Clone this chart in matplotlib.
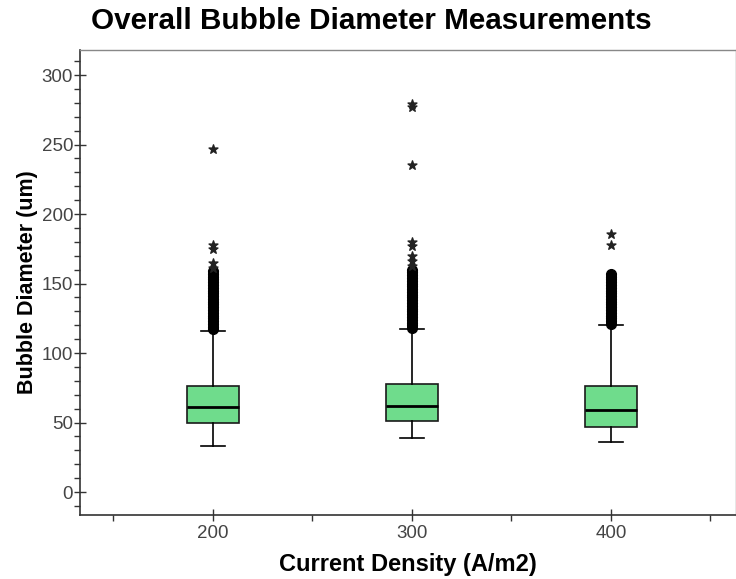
import matplotlib.pyplot as plt

plt.rcParams['font.family'] = ['Liberation Sans', 'DejaVu Sans']

# Data
categories = ['200', '300', '400']
q1 = [50, 51, 47]
medians = [61, 62, 59]
q3 = [76, 78, 76]
whisker_low = [33, 39, 36]
whisker_high = [116, 117, 120]

# dense outliers (filled circles)
dense_200 = [117, 119, 121, 123, 125, 127, 129, 131, 133, 135, 137, 139, 141,
             143, 145, 147, 149, 151, 153, 155, 157, 159]
dense_300 = [118, 120, 122, 124, 126, 128, 130, 132, 134, 136, 138, 140, 142,
             144, 146, 148, 150, 152, 154, 156, 158, 160]
dense_400 = [121, 123, 125, 127, 129, 131, 133, 135, 137, 139, 141, 143, 145,
             147, 149, 151, 153, 155, 157]

# extreme outliers (stars)
stars_200 = [161, 165, 175, 178, 247]
stars_300 = [163, 166, 170, 177, 180, 235, 277, 279]
stars_400 = [178, 186]

dense = [dense_200, dense_300, dense_400]
stars = [stars_200, stars_300, stars_400]

stats = []
for i in range(len(categories)):
    stats.append({
        'label': categories[i],
        'q1': q1[i], 'med': medians[i], 'q3': q3[i],
        'whislo': whisker_low[i], 'whishi': whisker_high[i],
        'fliers': dense[i],
    })

fig = plt.figure(figsize=(7.36, 5.79), dpi=100)
ax = fig.add_axes([0.1087, 0.1105, 0.891, 0.803])

positions = [1, 2, 3]
ax.bxp(stats, positions=positions, widths=0.26, patch_artist=True,
       boxprops=dict(facecolor='#6fdc8c', edgecolor='#1a1a1a', linewidth=1.2),
       medianprops=dict(color='black', linewidth=2),
       whiskerprops=dict(color='black', linewidth=1.2),
       capprops=dict(color='black', linewidth=1.2),
       capwidths=0.12,
       flierprops=dict(marker='o', markerfacecolor='black', markeredgecolor='black',
                       markersize=7))

for i, pos in enumerate(positions):
    ax.scatter([pos] * len(stars[i]), stars[i], marker='*', s=45, color='#222222',
               zorder=3)

ax.set_xlim(0.332, 3.628)
ax.set_ylim(-16.5, 318)
ax.set_xticks(positions)
ax.set_xticklabels(categories)
ax.set_xticks([0.5, 1.5, 2.5, 3.5], minor=True)
ax.set_yticks([0, 50, 100, 150, 200, 250, 300])
ax.set_yticks(range(-10, 320, 10), minor=True)

ax.tick_params(axis='both', which='major', direction='inout', length=8, width=1,
               labelsize=13.5, labelcolor='#444444', color='#333333')
ax.tick_params(axis='both', which='minor', direction='out', length=4, width=1,
               color='#333333')
ax.tick_params(axis='y', pad=1)

for side in ['left', 'bottom']:
    ax.spines[side].set_color('#333333')
    ax.spines[side].set_linewidth(1.2)
for side in ['top', 'right']:
    ax.spines[side].set_color('#888888')
    ax.spines[side].set_linewidth(1)

ax.set_xlabel('Current Density (A/m2)', fontsize=17, fontweight='bold')
ax.set_ylabel('Bubble Diameter (um)', fontsize=15.5, fontweight='bold')
ax.xaxis.set_label_coords(0.5, -0.082)
ax.yaxis.set_label_coords(-0.064, 0.5)
fig.text(0.124, 0.963, 'Overall Bubble Diameter Measurements', fontsize=21.3,
         fontweight='bold', ha='left', va='center')

fig.savefig('out.png', dpi=100)
